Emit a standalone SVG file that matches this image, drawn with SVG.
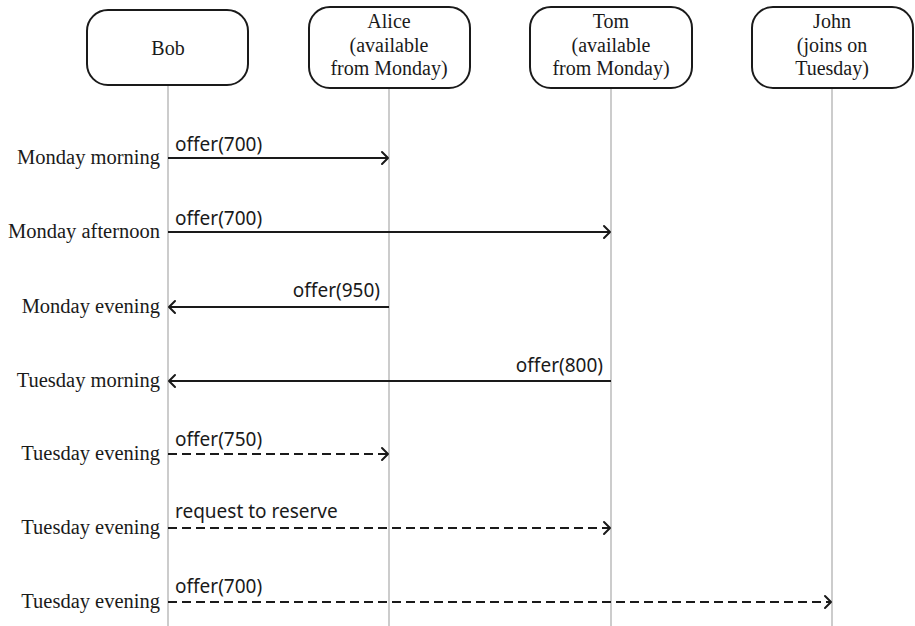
<svg xmlns="http://www.w3.org/2000/svg" width="915" height="626" viewBox="0 0 915 626">
<style>
.box{fill:#fff;stroke:#1a1a1a;stroke-width:2}
.life{stroke:#aaa;stroke-width:1.2;fill:none}
.hd{font-family:"Liberation Serif","Times New Roman",serif;font-size:20px;fill:#1a1a1a;text-anchor:middle}
.tl{font-family:"Liberation Serif","Times New Roman",serif;font-size:20.5px;fill:#1a1a1a;text-anchor:end}
.msg{font-family:"Noto Sans","Open Sans",sans-serif;font-size:19px;fill:#1a1a1a}
.r{text-anchor:end}
.arr{stroke:#1a1a1a;stroke-width:2;fill:none}
.dash{stroke-dasharray:9 5}
.head{stroke:#1a1a1a;stroke-width:2;fill:none;stroke-linecap:round;stroke-linejoin:round}
</style>
<rect width="915" height="626" fill="#fff"/>
<g id="lifelines">
<line class="life" x1="168" y1="85" x2="168" y2="626"/>
<line class="life" x1="389" y1="88" x2="389" y2="626"/>
<line class="life" x1="611" y1="88" x2="611" y2="626"/>
<line class="life" x1="832" y1="88" x2="832" y2="626"/>
</g>
<g id="bob">
<rect class="box" x="87" y="10" width="161" height="75" rx="21"/>
<text class="hd" x="168" y="55">Bob</text>
</g>
<g id="alice">
<rect class="box" x="309" y="7" width="161" height="81" rx="21"/>
<text class="hd" x="389" y="28">Alice</text>
<text class="hd" x="389" y="52">(available</text>
<text class="hd" x="389" y="75">from Monday)</text>
</g>
<g id="tom">
<rect class="box" x="530" y="7" width="162" height="81" rx="21"/>
<text class="hd" x="611" y="28">Tom</text>
<text class="hd" x="611" y="52">(available</text>
<text class="hd" x="611" y="75">from Monday)</text>
</g>
<g id="john">
<rect class="box" x="752" y="7" width="161" height="81" rx="21"/>
<text class="hd" x="832" y="28">John</text>
<text class="hd" x="832" y="52">(joins on</text>
<text class="hd" x="832" y="75">Tuesday)</text>
</g>
<g id="times">
<text class="tl" x="160" y="164">Monday morning</text>
<text class="tl" x="160" y="238">Monday afternoon</text>
<text class="tl" x="160" y="313">Monday evening</text>
<text class="tl" x="160" y="387">Tuesday morning</text>
<text class="tl" x="160" y="460">Tuesday evening</text>
<text class="tl" x="160" y="534">Tuesday evening</text>
<text class="tl" x="160" y="608">Tuesday evening</text>
</g>
<g id="connectors">
<line class="arr" x1="168" y1="158" x2="388" y2="158"/>
<polyline class="head" points="382,152 388,158 382,164"/>
<text class="msg" x="175" y="151">offer(700)</text>

<line class="arr" x1="168" y1="232" x2="610" y2="232"/>
<polyline class="head" points="604,226 610,232 604,238"/>
<text class="msg" x="175" y="225">offer(700)</text>

<line class="arr" x1="169" y1="307" x2="389" y2="307"/>
<polyline class="head" points="175,301 169,307 175,313"/>
<text class="msg r" x="380" y="297">offer(950)</text>

<line class="arr" x1="169" y1="381" x2="611" y2="381"/>
<polyline class="head" points="175,375 169,381 175,387"/>
<text class="msg r" x="603" y="372">offer(800)</text>

<line class="arr dash" x1="168" y1="454" x2="388" y2="454"/>
<polyline class="head" points="382,448 388,454 382,460"/>
<text class="msg" x="175" y="446">offer(750)</text>

<line class="arr dash" x1="168" y1="528" x2="610" y2="528"/>
<polyline class="head" points="604,522 610,528 604,534"/>
<text class="msg" x="175" y="518">request to reserve</text>

<line class="arr dash" x1="168" y1="602" x2="831" y2="602"/>
<polyline class="head" points="825,596 831,602 825,608"/>
<text class="msg" x="175" y="593">offer(700)</text>
</g>
</svg>
